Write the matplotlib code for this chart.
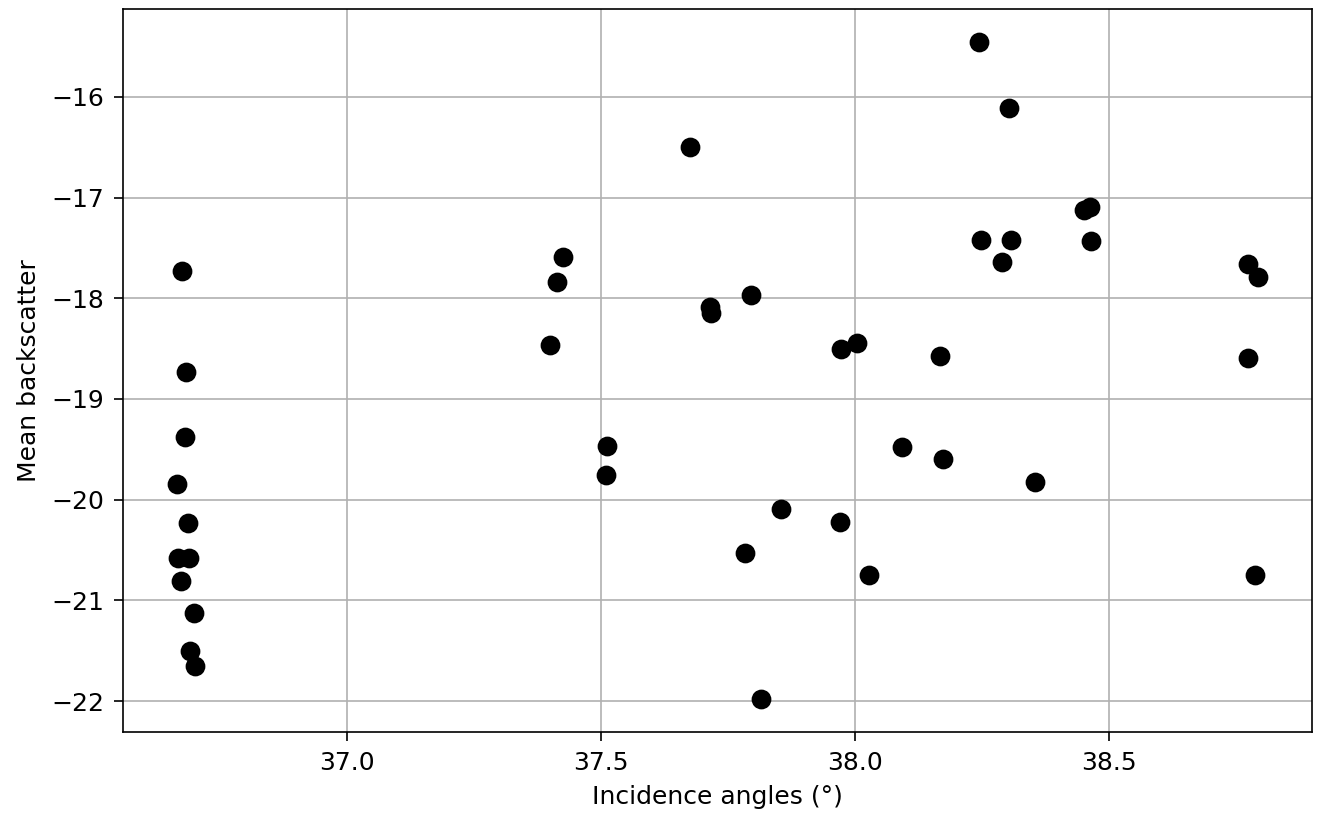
import matplotlib

matplotlib.use("Agg")
import matplotlib.pyplot as plt

# incidence angle (deg) and mean backscatter (dB) per acquisition
incidence_angles = [
    38.244, 38.303, 37.675, 38.451, 38.463, 38.248, 38.307, 38.465,
    37.425, 36.675, 38.289, 38.774, 38.793, 37.413, 37.795, 37.715,
    37.717, 37.400, 38.004, 37.972, 38.167, 38.774, 36.683, 36.681,
    37.512, 38.093, 38.173, 37.510, 36.665, 38.354, 37.854, 36.687,
    37.970, 36.667, 36.689, 37.783, 36.673, 38.028, 38.787, 36.699,
    36.691, 36.701, 37.815,
]
mean_backscatter = [
    -15.455, -16.109, -16.495, -17.119, -17.099, -17.426, -17.426, -17.436,
    -17.594, -17.733, -17.644, -17.663, -17.792, -17.842, -17.970, -18.089,
    -18.149, -18.465, -18.446, -18.505, -18.574, -18.594, -18.733, -19.376,
    -19.465, -19.475, -19.594, -19.752, -19.842, -19.822, -20.089, -20.228,
    -20.218, -20.574, -20.574, -20.525, -20.812, -20.752, -20.743, -21.129,
    -21.505, -21.653, -21.980,
]

plt.rcParams.update({
    "font.size": 12,
    "xtick.major.size": 4.5,
    "ytick.major.size": 4.5,
    "xtick.major.pad": 4.5,
    "ytick.major.pad": 4.5,
    "axes.labelpad": 5,
})

figure, axis = plt.subplots(figsize=(8.78, 5.48), dpi=150)
figure.subplots_adjust(left=0.0934, right=0.9962, top=0.989, bottom=0.1095)
axis.scatter(incidence_angles, mean_backscatter, s=72, color="black", zorder=3)
axis.set(xlabel="Incidence angles (°)", ylabel="Mean backscatter")
axis.grid(True)
axis.set_axisbelow(True)
figure.savefig("out.png", dpi=150)
